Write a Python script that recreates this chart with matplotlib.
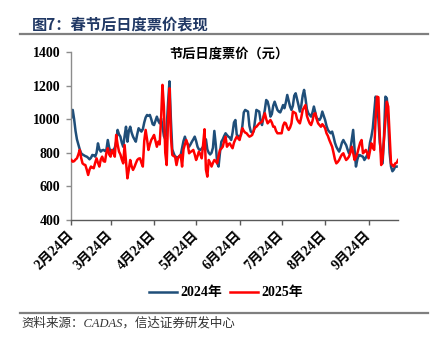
import matplotlib
matplotlib.use("Agg")
import matplotlib.pyplot as plt
from matplotlib.lines import Line2D
import pandas as pd

# Daily ticket price after the Spring Festival (yuan), starting 2月24日
price_2024 = [
    1010, 1055, 1000, 930, 880, 850, 820, 797, 790, 785,
    780, 777, 770, 761, 770, 787, 785, 777, 800, 856,
    820, 807, 815, 817, 810, 817, 876, 830, 807, 810,
    817, 830, 866, 936, 910, 896, 860, 836, 900, 955,
    866, 930, 955, 920, 896, 880, 866, 910, 946, 935,
    926, 940, 980, 1010, 1025, 1020, 1025, 1000, 970, 965,
    990, 1015, 990, 975, 1005, 960, 900, 880, 950, 1100,
    1225, 1000, 820, 797, 777, 775, 769, 780, 787, 830,
    870, 896, 866, 850, 836, 850, 866, 880, 896, 870,
    836, 820, 817, 825, 836, 820, 880, 820, 800, 790,
    800, 830, 930, 850, 740, 718, 800, 866, 880, 900,
    916, 905, 896, 890, 876, 920, 980, 995, 906, 900,
    896, 905, 960, 1040, 1055, 1050, 1045, 960, 926, 920,
    926, 990, 1055, 1050, 1045, 990, 965, 1010, 1055, 1114,
    1105, 1070, 1015, 1030, 1080, 1104, 1080, 1055, 1045, 1040,
    1060, 1084, 1065, 1100, 1144, 1110, 1075, 1055, 1080, 1140,
    1154, 1120, 1084, 1045, 1080, 1140, 1174, 1124, 1060, 1035,
    1025, 1015, 1040, 1075, 1040, 1005, 1000, 995, 1010, 1045,
    1020, 995, 960, 936, 925, 916, 926, 896, 860, 836,
    820, 807, 830, 860, 876, 860, 846, 820, 797, 820,
    880, 936, 820, 718, 760, 787, 785, 780, 777, 757,
    770, 787, 800, 860, 896, 946, 1040, 1134, 1110, 1000,
    860, 797, 737, 900, 1134, 1125, 1000, 800, 718, 690,
    700, 718, 718,
]

price_2025 = [
    757, 747, 750, 760, 767, 790, 817, 770, 737, 730,
    727, 700, 668, 700, 718, 712, 708, 740, 767, 740,
    718, 760, 777, 750, 747, 800, 827, 790, 777, 817,
    800, 777, 906, 850, 807, 790, 760, 737, 846, 750,
    648, 700, 757, 720, 698, 715, 737, 757, 765, 767,
    740, 718, 870, 936, 880, 817, 850, 876, 890, 906,
    870, 836, 866, 850, 1000, 1204, 1075, 800, 727, 1000,
    1184, 900, 787, 780, 777, 727, 767, 780, 787, 718,
    820, 850, 876, 850, 797, 805, 810, 817, 790, 757,
    780, 807, 790, 767, 850, 940, 700, 658, 757, 740,
    718, 740, 757, 750, 737, 780, 817, 825, 836, 870,
    896, 836, 850, 856, 840, 827, 860, 880, 896, 885,
    876, 910, 946, 930, 920, 916, 905, 896, 900, 906,
    930, 950, 955, 965, 975, 980, 985, 1010, 1035, 1000,
    975, 985, 995, 980, 955, 955, 930, 916, 916, 916,
    916, 960, 980, 975, 950, 936, 950, 975, 1045, 1040,
    1035, 1000, 985, 975, 1010, 1055, 1070, 1084, 1020, 995,
    975, 965, 990, 1030, 1035, 1000, 975, 965, 955, 970,
    960, 946, 916, 900, 876, 856, 836, 800, 760, 737,
    745, 757, 775, 790, 797, 775, 757, 765, 777, 800,
    836, 800, 757, 775, 797, 830, 860, 876, 797, 805,
    817, 800, 767, 810, 856, 830, 817, 1000, 1134, 1130,
    900, 727, 767, 880, 1000, 1104, 1075, 900, 737, 725,
    718, 737, 740, 757,
]

series_names = ["2024年", "2025年"]
series_colors = ["#1F4E79", "#FF0000"]
tick_months = [2, 3, 4, 5, 6, 7, 8, 9]
tick_day = 24
y_ticks = [400, 600, 800, 1000, 1200, 1400]

start = pd.Timestamp("2025-02-24")
dates_2024 = pd.date_range(start, periods=len(price_2024), freq="D")
dates_2025 = pd.date_range(start, periods=len(price_2025), freq="D")

cjk_serif = ["Liberation Serif", "Noto Sans CJK SC"]
cjk_sans = ["Noto Sans CJK SC", "DejaVu Sans"]

fig = plt.figure(figsize=(4.35, 3.43), dpi=100)
ax = fig.add_axes([0.163, 0.3586, 0.752, 0.49])

ax.plot(dates_2024, price_2024, color=series_colors[0], lw=1.8,
        label=series_names[0], zorder=2)
ax.plot(dates_2025, price_2025, color=series_colors[1], lw=1.8,
        label=series_names[1], zorder=3)

ax.set_ylim(400, 1400)
ax.set_yticks(y_ticks)
ax.set_yticklabels([str(v) for v in y_ticks], fontfamily=cjk_serif,
                   fontweight="bold", fontsize=10)

tick_dates = [pd.Timestamp(year=2025, month=m, day=tick_day) for m in tick_months]
ax.set_xticks(tick_dates)
ax.set_xticklabels([f"{m}月{tick_day}日" for m in tick_months],
                   fontfamily=cjk_serif, fontweight="bold", fontsize=10,
                   rotation=45, ha="right", va="center", rotation_mode="anchor")
ax.set_xlim(start - pd.Timedelta(days=0.3), start + pd.Timedelta(days=233))

for side in ("top", "right"):
    ax.spines[side].set_visible(False)
ax.spines["left"].set_color("#8C8C8C")
ax.spines["bottom"].set_color("#595959")
ax.spines["left"].set_linewidth(1.0)
ax.spines["bottom"].set_linewidth(1.0)
ax.tick_params(axis="y", direction="out", length=3.5, width=1.0,
               color="#8C8C8C", pad=4)
ax.tick_params(axis="x", direction="out", length=3.5, width=1.0,
               color="#595959", pad=6)

fig.text(0.526, 0.845, "节后日度票价（元）", ha="center", va="center",
         fontfamily=cjk_sans, fontweight="bold", fontsize=9.5, color="#000000")

fig.text(0.073, 0.9286, "图7：春节后日度票价表现", ha="left", va="center",
         fontfamily=cjk_sans, fontweight="bold", fontsize=11, color="#203864")
fig.add_artist(Line2D([0.046, 0.984], [0.901, 0.901], transform=fig.transFigure,
                      color="#7F7F7F", lw=1.6))
fig.add_artist(Line2D([0.046, 0.984], [0.0883, 0.0883], transform=fig.transFigure,
                      color="#7F7F7F", lw=1.6))
fig.text(0.05, 0.058, "资料来源：CADAS，信达证券研发中心", ha="left", va="center",
         fontfamily=cjk_serif, fontstyle="italic", fontsize=9, color="#333333")

leg = fig.legend(loc="center", bbox_to_anchor=(0.52, 0.146), ncol=2,
                 frameon=False, handlelength=2.0, handletextpad=0.25,
                 columnspacing=0.6,
                 prop={"family": cjk_serif, "weight": "bold", "size": 10})

fig.savefig("out.png", dpi=100)
